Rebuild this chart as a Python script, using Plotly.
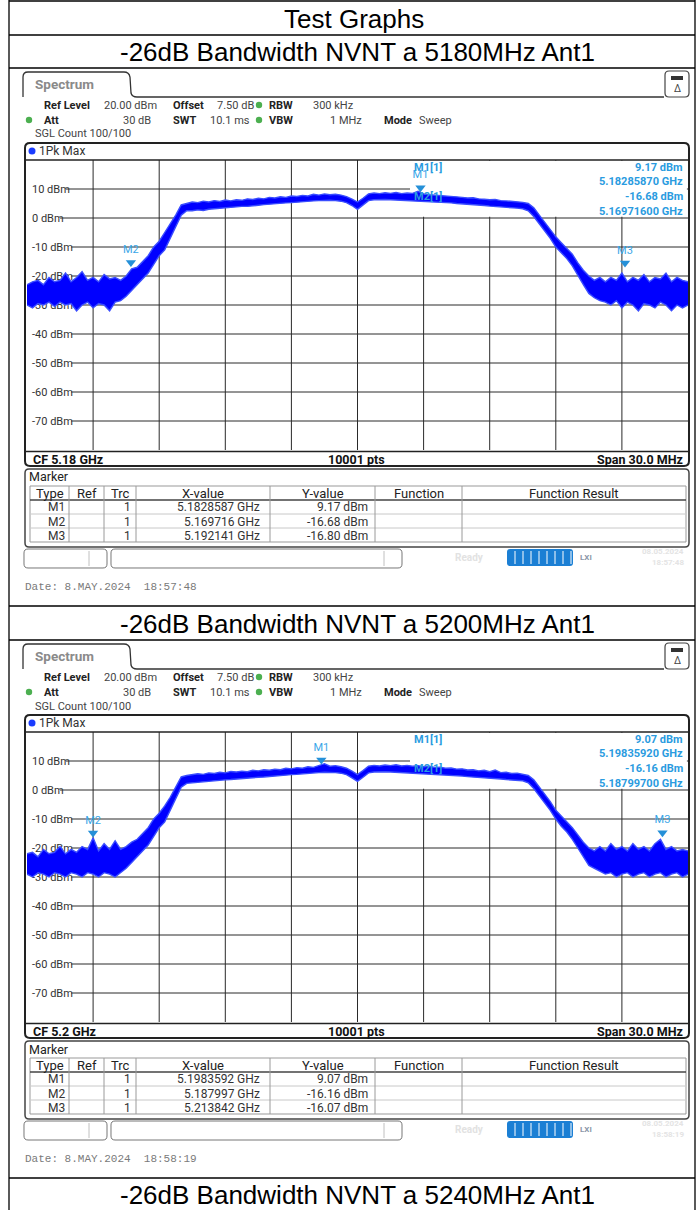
import plotly.graph_objects as go

# ---------------- data ----------------
FREQ_START_MHZ = -15.0
FREQ_STEP_MHZ = 0.25
N_POINTS = 121
FREQ_OFFSET_MHZ = [FREQ_START_MHZ + FREQ_STEP_MHZ * i for i in range(N_POINTS)]

# trace envelope (dBm), plot 1 (CF 5.18 GHz)
LOWER_5180 = [-30, -31, -29.5, -30, -29, -30.5, -29, -30, -29.5, -32, -30, -29, -31, -29.5, -30, -32, -29, -28.5, -27, -25,
              -23, -21, -19, -16, -13, -11, -7, -3, 1, 2.5, 2.5, 2.8, 2.6, 3.0, 3.2, 3.4, 3.5, 3.6, 3.8, 4.0,
              4.0, 4.3, 4.4, 4.6, 4.8, 4.9, 5.0, 5.2, 5.3, 5.5, 5.6, 5.8, 5.9, 6.0, 6.1, 6.1, 6.0, 5.8, 5.3, 4.3,
              3.0, 4.5, 6.0, 6.3, 6.4, 6.4, 6.3, 6.2, 6.2, 6.1, 6.0, 6.0, 5.9, 5.8, 5.6, 5.5, 5.3, 5.2, 5.0, 4.9,
              4.7, 4.6, 4.4, 4.3, 4.1, 4.0, 3.8, 3.7, 3.5, 3.4, 3.2, 2.5, 0.5, -2, -4.5, -7, -10, -12, -14, -16.5,
              -20, -23, -26, -27.5, -28.5, -29, -30, -28.5, -31, -29, -30, -32, -29.5, -30, -31, -29, -30, -32, -30, -31,
              -30]
UPPER_5180 = [-23, -22, -21.5, -23, -20.5, -22, -21.5, -19, -22, -20.5, -18.5, -21.5, -20.5, -22, -19.5, -21, -20.5, -21.5, -20, -17.5,
              -17, -15, -13, -10, -8, -5, -2, 1, 4.5, 5, 5.5, 5.3, 5.8, 5.5, 6.0, 5.7, 6.2, 5.9, 6.3, 6.1,
              6.6, 6.4, 6.8, 6.6, 7.1, 6.9, 7.3, 7.1, 7.6, 7.4, 7.8, 7.6, 8.2, 7.9, 8.3, 8.0, 8.2, 7.9, 7.4, 6.5,
              5.5, 6.8, 8.3, 8.6, 8.4, 8.7, 8.5, 8.8, 8.4, 8.6, 8.5, 9.2, 8.3, 8.0, 7.9, 7.6, 7.7, 7.4, 7.3, 7.1,
              6.9, 7.0, 6.6, 6.5, 6.3, 6.4, 6.0, 5.9, 5.8, 5.6, 5.4, 5.0, 3.5, 1, -1.5, -4, -6.5, -8.5, -10.5, -12.5,
              -15.5, -18, -20, -21.5, -20.5, -22, -20.5, -21.5, -19, -22, -20.5, -21.5, -19.5, -22, -20.5, -21, -19, -22, -20.5, -21.5,
              -22]

# plot 2 (CF 5.2 GHz)
LOWER_5200 = [-29, -30, -28.5, -29, -30, -28.5, -29, -30, -28.5, -29, -30, -28.5, -29, -30, -28.5, -29, -30, -28.5, -27, -25,
              -23, -21, -19, -16, -13, -11, -7, -3, 1, 2.3, 2.5, 2.7, 2.9, 3.0, 3.2, 3.3, 3.5, 3.6, 3.8, 3.9,
              4.1, 4.2, 4.4, 4.5, 4.7, 4.8, 5.0, 5.1, 5.3, 5.4, 5.6, 5.7, 5.9, 6.0, 6.1, 6.1, 6.0, 5.8, 5.3, 4.2,
              3.0, 4.4, 5.9, 6.2, 6.3, 6.3, 6.2, 6.1, 6.1, 6.0, 5.9, 5.8, 5.7, 5.6, 5.4, 5.3, 5.2, 5.0, 4.9, 4.8,
              4.6, 4.5, 4.3, 4.2, 4.0, 3.9, 3.8, 3.6, 3.5, 3.4, 3.2, 2.5, 0.5, -2, -4.5, -7, -10, -12.5, -14.5, -17,
              -20, -23, -26, -27, -28, -29, -28.5, -30, -29, -28.5, -30, -29, -28.5, -30, -29, -28.5, -30, -29, -28.5, -30,
              -29]
UPPER_5200 = [-22, -21.5, -23, -20.5, -22, -21.5, -19.5, -22, -20.5, -21.5, -19.5, -20.5, -16.5, -21, -18.5, -20.5, -17.5, -20.5, -19.5, -18,
              -17, -15, -13, -10, -8, -5.5, -2.5, 1, 4.5, 5.0, 5.3, 5.6, 5.4, 5.9, 5.7, 6.1, 5.9, 6.4, 6.2, 6.5,
              6.3, 6.8, 6.6, 7.0, 6.8, 7.2, 7.0, 7.5, 7.3, 7.7, 7.5, 8.0, 7.8, 8.4, 9.07, 8.2, 8.4, 8.0, 7.5, 6.5,
              5.3, 6.7, 8.2, 8.5, 8.3, 8.6, 8.4, 8.7, 8.3, 8.5, 8.2, 8.4, 8.0, 8.2, 7.8, 7.9, 7.5, 7.6, 7.2, 7.3,
              6.9, 7.0, 6.6, 6.8, 6.3, 6.9, 6.0, 6.1, 5.7, 5.8, 5.4, 5.0, 3.5, 1, -1.5, -4, -7, -9, -11, -13,
              -15.5, -18, -20, -21, -19.5, -21, -18.5, -20.5, -19.5, -21, -18.5, -20.5, -19.5, -21, -18.5, -17, -20.5, -19.5, -21, -20.5,
              -21]

CENTER_GHZ = [5.18, 5.2]
LOWERS = [LOWER_5180, LOWER_5200]
UPPERS = [UPPER_5180, UPPER_5200]
MARKER_NAMES = ["M1", "M2", "M3"]
MARKER_X_GHZ = [[5.1828587, 5.169716, 5.192141], [5.1983592, 5.187997, 5.213842]]
MARKER_Y_DBM = [[9.17, -16.68, -16.80], [9.07, -16.16, -16.07]]
Y_TICKS = [10, 0, -10, -20, -30, -40, -50, -60, -70]
Y_TICK_LABELS = [f"{v} dBm" for v in Y_TICKS]
PAGE_TITLE = "Test Graphs"
SECTION_TITLES = ["-26dB Bandwidth NVNT a 5180MHz Ant1", "-26dB Bandwidth NVNT a 5200MHz Ant1",
                  "-26dB Bandwidth NVNT a 5240MHz Ant1"]
DATES = ["Date: 8.MAY.2024\u00a0 18:57:48", "Date: 8.MAY.2024\u00a0 18:58:19"]
STATUS_TIMES = ["18:57:48", "18:58:19"]
TABLE_HEADERS = ["Type", "Ref", "Trc", "X-value", "Y-value", "Function", "Function Result"]

# ---------------- layout helpers ----------------
W, H = 696, 1210
def px(x): return x / W
def py(y): return 1 - y / H

GX0, GX1 = 27, 688          # grid area pixels
GY0, GY1 = 160, 450
def f_of_px(xp): return -15 + (xp - GX0) * 30 / (GX1 - GX0)

SCR = "Roboto, Liberation Sans, sans-serif"
TTL = "Liberation Sans, Arial, sans-serif"
MONO = "Liberation Mono, DejaVu Sans Mono, monospace"
BLUE_TXT = "#2a9be0"

shapes, anns = [], []

def line(x0, y0, x1, y1, color="black", w=1, layer="above"):
    shapes.append(dict(type="line", xref="paper", yref="paper", x0=px(x0), y0=py(y0), x1=px(x1), y1=py(y1),
                       line=dict(color=color, width=w), layer=layer))

def rpath(pts_cmds, color="black", w=1, fill=None):
    s = ""
    for c, pts in pts_cmds:
        s += c
        if pts:
            s += " " + " ".join(f"{px(pts[i]):.5f},{py(pts[i+1]):.5f}" for i in range(0, len(pts), 2))
        s += " "
    d = dict(type="path", xref="paper", yref="paper", path=s.strip(), line=dict(color=color, width=w))
    if fill:
        d["fillcolor"] = fill
    if w == 0:
        d["line"] = dict(width=0)
    shapes.append(d)

def rrect(x0, y0, x1, y1, r, color="black", w=1, fill=None):
    rpath([("M", [x0 + r, y0]), ("L", [x1 - r, y0]), ("Q", [x1, y0, x1, y0 + r]), ("L", [x1, y1 - r]),
           ("Q", [x1, y1, x1 - r, y1]), ("L", [x0 + r, y1]), ("Q", [x0, y1, x0, y1 - r]), ("L", [x0, y0 + r]),
           ("Q", [x0, y0, x0 + r, y0]), ("Z", [])], color, w, fill)

def dot(cx, cy, r, color):
    shapes.append(dict(type="circle", xref="paper", yref="paper", x0=px(cx - r), x1=px(cx + r),
                       y0=py(cy + r), y1=py(cy - r), fillcolor=color, line=dict(width=0)))

def text(x, y, s, size=11, color="#222", anchor="left", bold=False, family=SCR):
    anns.append(dict(xref="paper", yref="paper", x=px(x), y=py(y), text=s, showarrow=False,
                     xanchor=anchor, yanchor="middle",
                     font=dict(family=family, size=size, color=color, weight="bold" if bold else "normal")))

fig = go.Figure()

# ---------------- page table ----------------
for yy in [1, 35, 68, 606, 640, 1178]:
    line(9, yy, 695, yy, "black", 1.3)
line(9, 0, 9, H, "black", 1.3)
line(695, 0, 695, H, "black", 1.3)
text(354, 19, PAGE_TITLE, 26, "black", "center", family=TTL)
for i, yy in enumerate([52, 624, 1195]):
    text(357, yy, SECTION_TITLES[i], 26, "black", "center", family=TTL)

# ---------------- each analyzer screenshot ----------------
for k in range(2):
    dy = 572 * k
    xa = "x" if k == 0 else "x2"
    ya = "y" if k == 0 else "y2"
    cf = CENTER_GHZ[k]

    # tab + icon
    rpath([("M", [23, 97 + dy]), ("L", [23, 77 + dy]), ("Q", [23, 72 + dy, 28, 72 + dy]), ("L", [124, 72 + dy]),
           ("Q", [129, 72 + dy, 130, 77 + dy]), ("L", [131, 93 + dy]), ("Q", [132, 97 + dy, 137, 97 + dy]),
           ("L", [664, 97 + dy])], "#333", 1.3)
    rrect(665, 71 + dy, 689, 97 + dy, 4, "#444", 1.2, "white")
    shapes.append(dict(type="rect", xref="paper", yref="paper", x0=px(671), x1=px(683), y0=py(80 + dy),
                       y1=py(76 + dy), fillcolor="#333", line=dict(width=0)))
    text(677, 88 + dy, "\u0394", 10, "#444", "center")
    text(33, 84 + dy, "Spectrum", 13.5, "#8a8a8a", "left", bold=True)

    # header settings
    text(42, 105 + dy, "Ref Level", 11, "#222", bold=True)
    text(102, 105 + dy, "20.00 dBm", 11, "#444")
    text(171, 105 + dy, "Offset", 11, "#222", bold=True)
    text(215, 105 + dy, "7.50 dB", 11, "#444")
    dot(259, 105 + dy, 3.2, "#4caf50")
    text(267, 105 + dy, "RBW", 11, "#222", bold=True)
    text(311, 105 + dy, "300 kHz", 11, "#444")
    dot(29, 120 + dy, 3.2, "#4caf50")
    text(42, 120 + dy, "Att", 11, "#222", bold=True)
    text(153, 120 + dy, "30 dB", 11, "#444", "right")
    text(171, 120 + dy, "SWT", 11, "#222", bold=True)
    text(252, 120 + dy, "10.1 ms", 11, "#444", "right")
    dot(259, 120 + dy, 3.2, "#4caf50")
    text(267, 120 + dy, "VBW", 11, "#222", bold=True)
    text(364, 120 + dy, "1 MHz", 11, "#444", "right")
    text(382, 120 + dy, "Mode", 11, "#222", bold=True)
    text(417, 120 + dy, "Sweep", 11, "#444")
    text(33, 134 + dy, "SGL Count 100/100", 11, "#444")

    # diagram frame
    rrect(25, 143 + dy, 689, 466 + dy, 5, "#222", 2)
    line(25, GY0 + dy, 689, GY0 + dy, "#222", 1.5)
    line(25, 451.5 + dy, 689, 451.5 + dy, "#222", 1.5)
    dot(32, 151 + dy, 3.5, "#1a3cff")
    text(37, 151 + dy, "1Pk Max", 12, "#333")
    text(31, 459 + dy, f"CF {cf:g} GHz", 12.5, "#111", bold=True)
    text(356, 459 + dy, "10001 pts", 12.5, "#111", "center", bold=True)
    text(685, 459 + dy, "Span 30.0 MHz", 12.5, "#111", "right", bold=True)

    # grid (axis-referenced, under traces)
    for fv in range(-12, 13, 3):
        shapes.append(dict(type="line", xref=xa, yref=ya, x0=fv, x1=fv, y0=-80, y1=20,
                           line=dict(color="#2a2a2a", width=1), layer="below"))
    for v, lab in zip(Y_TICKS, Y_TICK_LABELS):
        xs = f_of_px(31 + 5.6 * len(lab) + 1)
        shapes.append(dict(type="line", xref=xa, yref=ya, x0=xs, x1=15, y0=v, y1=v,
                           line=dict(color="#2a2a2a", width=1), layer="below"))
    shapes.append(dict(type="rect", xref=xa, yref=ya, x0=f_of_px(410), x1=14.95, y0=0.4, y1=19.7,
                       fillcolor="white", line=dict(width=0), layer="below"))

    # trace band
    fig.add_trace(go.Scatter(x=FREQ_OFFSET_MHZ, y=LOWERS[k], mode="lines", xaxis=xa, yaxis=ya,
                             line=dict(color="#3a4dff", width=1.4), hoverinfo="skip"))
    fig.add_trace(go.Scatter(x=FREQ_OFFSET_MHZ, y=UPPERS[k], mode="lines", xaxis=xa, yaxis=ya, fill="tonexty",
                             fillcolor="#0000ff", line=dict(color="#3a4dff", width=1.4), hoverinfo="skip"))

    # markers
    mx = [(v - cf) * 1000 for v in MARKER_X_GHZ[k]]
    my = [v + 1.3 for v in MARKER_Y_DBM[k]]
    fig.add_trace(go.Scatter(x=mx, y=my, mode="markers+text", xaxis=xa, yaxis=ya, text=MARKER_NAMES,
                             textposition="top center", cliponaxis=False,
                             textfont=dict(family=SCR, size=11, color="#3aa6e8"),
                             marker=dict(symbol="triangle-down", size=9, color="#2590d8"), hoverinfo="skip"))

    # marker info block
    text(412, 167 + dy, "M1[1]", 11, BLUE_TXT, bold=True)
    text(412, 196 + dy, "M2[1]", 11, BLUE_TXT, bold=True)
    info = [f"{MARKER_Y_DBM[k][0]:.2f} dBm", f"{MARKER_X_GHZ[k][0]:.8f} GHz",
            f"{MARKER_Y_DBM[k][1]:.2f} dBm", f"{MARKER_X_GHZ[k][1]:.8f} GHz"]
    for j, s in enumerate(info):
        text(685, 167 + 14.7 * j + dy, s, 11, BLUE_TXT, "right", bold=True)

    # marker table
    rrect(25, 469 + dy, 689, 547 + dy, 4, "#444", 1.5)
    text(27, 477 + dy, "Marker", 12.5, "#222")
    cols = [30, 69, 104, 136, 270, 375, 462, 686]
    shapes.append(dict(type="rect", xref="paper", yref="paper", x0=px(30), x1=px(686), y0=py(542 + dy),
                       y1=py(486 + dy), line=dict(color="#999", width=1)))
    line(30, 500 + dy, 686, 500 + dy, "#444", 1.5)
    for yy in [514, 528]:
        line(31, yy + dy, 685, yy + dy, "#c8c8c8", 1)
    for c in cols[1:-1]:
        line(c, 486 + dy, c, 542 + dy, "#9a9a9a", 1)
    for j, hdr in enumerate(TABLE_HEADERS):
        text((cols[j] + cols[j + 1]) / 2, 493 + dy, hdr, 13, "#222", "center")
    for r in range(3):
        yy = 507 + 14.5 * r + dy
        text(67, yy, MARKER_NAMES[r], 12, "#333", "right")
        text(133, yy, "1", 12, "#333", "right")
        text(262, yy, f"{MARKER_X_GHZ[k][r]} GHz", 12, "#333", "right")
        text(370, yy, f"{MARKER_Y_DBM[k][r]:.2f} dBm", 12, "#333", "right")

    # status bar
    rrect(24, 549 + dy, 107, 568 + dy, 4, "#777", 1)
    line(89, 551 + dy, 89, 566 + dy, "#c0c0c0", 1)
    rrect(111, 549 + dy, 402, 568 + dy, 4, "#777", 1)
    line(384, 551 + dy, 384, 566 + dy, "#c0c0c0", 1)
    text(453, 557 + dy, "Ready", 10, "#e2e2e2", bold=True)
    rrect(507, 549 + dy, 573, 566 + dy, 3, "#1b7fd4", 0, "#1b7fd4")
    for xx in range(515, 572, 8):
        line(xx, 551 + dy, xx, 564 + dy, "white", 1)
    text(586, 557 + dy, "LXI", 8, "#8a96a8", "center", bold=True)
    text(686, 551 + dy, "08.05.2024", 8, "#e4e4e4", "right", bold=True)
    text(686, 562 + dy, STATUS_TIMES[k], 8, "#e4e4e4", "right", bold=True)

    text(23, 587 + dy, DATES[k], 11, "#7a7a7a", family=MONO)

# ---------------- axes ----------------
def xax():
    return dict(domain=[px(GX0), px(GX1)], range=[-15, 15], showgrid=False, zeroline=False,
                showticklabels=False, ticks="", showline=False, fixedrange=True)

def yax(k):
    dy = 572 * k
    return dict(domain=[py(GY1 + dy), py(GY0 + dy)], range=[-80, 20], tickvals=Y_TICKS, ticktext=Y_TICK_LABELS,
                ticklabelposition="inside", ticks="", showgrid=False, zeroline=False, showline=False,
                layer="below traces", tickfont=dict(family=SCR, size=11, color="#333"),
                ticklabelstandoff=2, fixedrange=True)

xa2 = xax(); xa2["anchor"] = "y2"
ya2 = yax(1); ya2["anchor"] = "x2"
xa1 = xax(); xa1["anchor"] = "y"
ya1 = yax(0); ya1["anchor"] = "x"

fig.update_layout(width=W, height=H, margin=dict(l=0, r=0, t=0, b=0), showlegend=False,
                  paper_bgcolor="white", plot_bgcolor="rgba(0,0,0,0)",
                  xaxis=xa1, yaxis=ya1, xaxis2=xa2, yaxis2=ya2, shapes=shapes, annotations=anns)

fig.write_html("out.html", config={"displayModeBar": False},
               post_script="document.body.style.margin='0';document.body.style.overflow='hidden';")
